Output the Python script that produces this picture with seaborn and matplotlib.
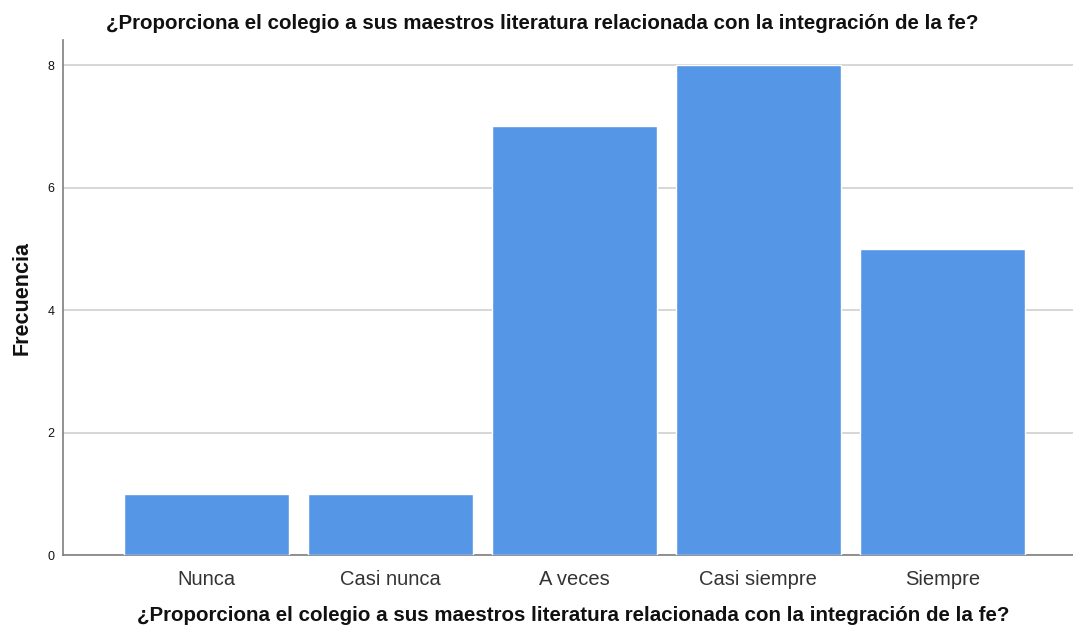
import matplotlib
matplotlib.use('Agg')
import matplotlib.pyplot as plt
import pandas as pd
import seaborn as sns

categorias = ['Nunca', 'Casi nunca', 'A veces', 'Casi siempre', 'Siempre']
frecuencias = [1, 1, 7, 8, 5]
y_ticks = [0, 2, 4, 6, 8]
titulo = '¿Proporciona el colegio a sus maestros literatura relacionada con la integración de la fe?'

sns.set_style('white')
plt.rcParams['font.family'] = ['Liberation Sans', 'DejaVu Sans']

df = pd.DataFrame({'categoria': categorias, 'frecuencia': frecuencias})

fig = plt.figure(figsize=(10.73, 6.3), dpi=100)
ax = fig.add_axes([0.0587, 0.119, 0.9413, 0.8175])

sns.barplot(data=df, x='categoria', y='frecuencia', color='#5596e6',
            saturation=1, width=0.9, ax=ax, zorder=3)

ax.set_xlim(-0.78, 4.71)
ax.set_ylim(0, 8.41)
ax.set_yticks(y_ticks)
ax.yaxis.grid(True, color='#cfcfcf', linewidth=1.2, zorder=0)
ax.set_axisbelow(True)

for side in ['top', 'right']:
    ax.spines[side].set_visible(False)
for side in ['left', 'bottom']:
    ax.spines[side].set_color('#7f7f7f')
    ax.spines[side].set_linewidth(1.2)

ax.tick_params(axis='y', labelsize=9, length=0, pad=6, labelcolor='#111111')
ax.tick_params(axis='x', labelsize=14.5, length=0, pad=11, labelcolor='#333333')

ax.set_xlabel(titulo, fontsize=14.8, fontweight='bold', labelpad=12, x=0.505, color='#111111')
ax.set_ylabel('Frecuencia', fontsize=15.5, fontweight='bold', labelpad=11, color='#111111')
ax.set_title(titulo, fontsize=14.8, fontweight='bold', pad=8, x=0.474, color='#111111')

fig.savefig('out.png', dpi=100)
